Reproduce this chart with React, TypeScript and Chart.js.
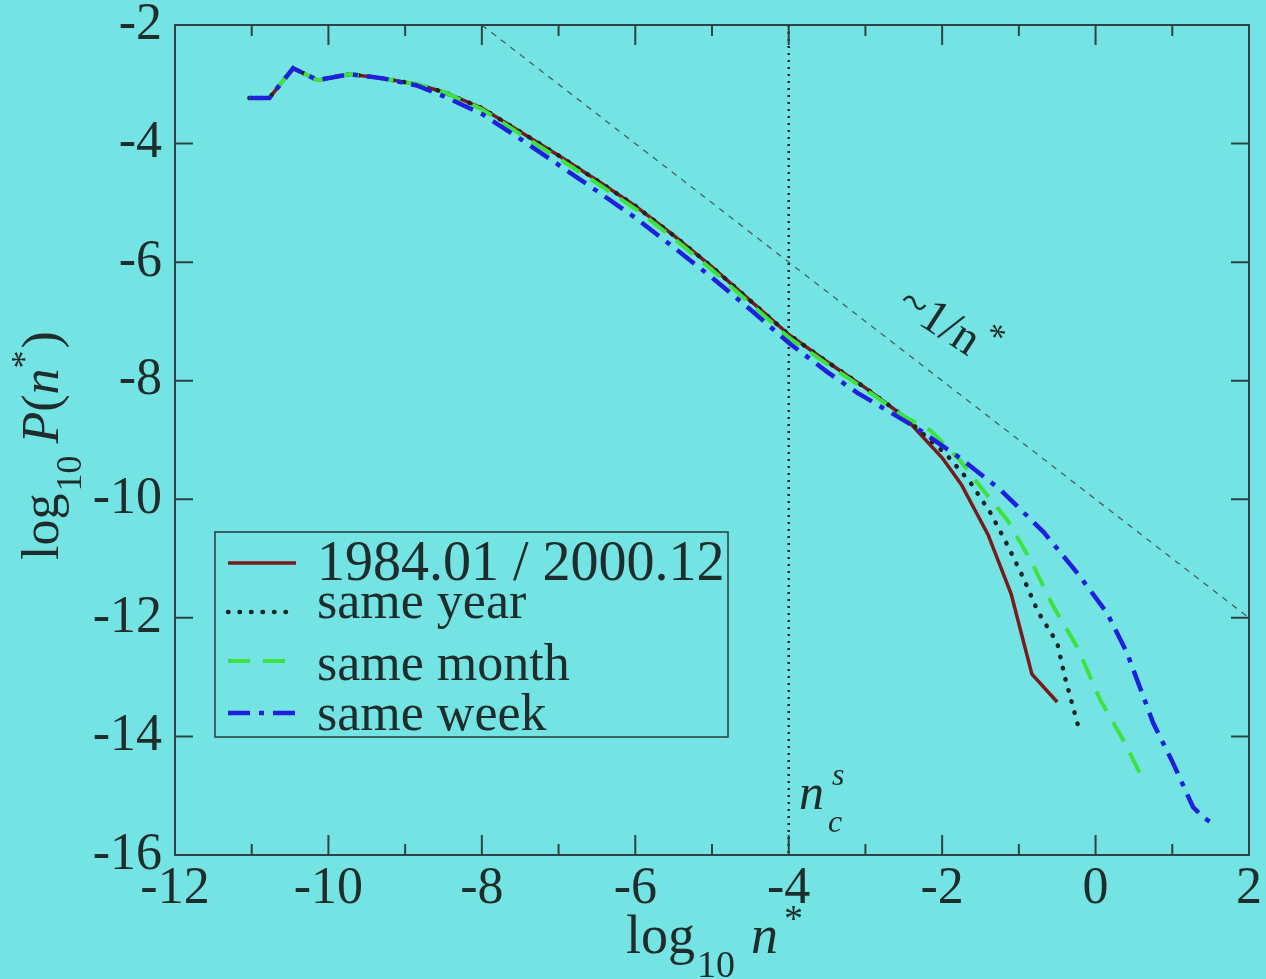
import React, { useEffect, useRef } from "react";
import { Chart, registerables } from "chart.js";

Chart.register(...registerables);

// ---------- data ----------
const xTickValues = [-12, -10, -8, -6, -4, -2, 0, 2];
const yTickValues = [-16, -14, -12, -10, -8, -6, -4, -2];

const seriesLabels = ["1984.01 / 2000.12", "same year", "same month", "same week"];

const fullX = [-11.03, -10.77, -10.46, -10.14, -9.72, -9.29, -8.85, -8.5, -8.0, -7.5, -7.0, -6.5, -6.0, -5.5, -5.0, -4.5, -4.0, -3.5, -3.0, -2.5, -2.0, -1.75, -1.4, -1.1, -0.83, -0.5];
const fullY = [-3.23, -3.23, -2.73, -2.93, -2.83, -2.9, -3.0, -3.13, -3.4, -3.8, -4.2, -4.62, -5.05, -5.55, -6.08, -6.65, -7.22, -7.68, -8.12, -8.6, -9.3, -9.75, -10.6, -11.6, -12.95, -13.42];

const yearX = [-11.03, -10.77, -10.46, -10.14, -9.72, -9.29, -8.85, -8.5, -8.0, -7.5, -7.0, -6.5, -6.0, -5.5, -5.0, -4.5, -4.0, -3.5, -3.0, -2.5, -2.2, -1.94, -1.63, -1.37, -1.15, -0.94, -0.75, -0.5, -0.4, -0.2];
const yearY = [-3.23, -3.23, -2.73, -2.93, -2.83, -2.9, -3.0, -3.13, -3.4, -3.8, -4.2, -4.62, -5.05, -5.55, -6.08, -6.65, -7.22, -7.68, -8.12, -8.6, -8.95, -9.25, -9.72, -10.23, -10.77, -11.33, -11.9, -12.42, -13.0, -13.95];

const monthX = [-11.03, -10.77, -10.46, -10.14, -9.72, -9.29, -8.85, -8.5, -8.0, -7.5, -7.0, -6.5, -6.0, -5.5, -5.0, -4.5, -4.0, -3.5, -3.0, -2.5, -2.16, -1.77, -1.47, -1.15, -0.85, -0.55, -0.24, 0.06, 0.36, 0.62];
const monthY = [-3.23, -3.23, -2.73, -2.93, -2.83, -2.9, -3.0, -3.13, -3.42, -3.84, -4.25, -4.67, -5.1, -5.6, -6.13, -6.7, -7.27, -7.72, -8.15, -8.6, -8.83, -9.34, -9.84, -10.35, -11.02, -11.81, -12.49, -13.38, -14.06, -14.73];

const weekX = [-11.03, -10.77, -10.46, -10.14, -9.72, -9.29, -8.85, -8.5, -8.0, -7.5, -7.0, -6.5, -6.0, -5.5, -5.0, -4.5, -4.0, -3.5, -3.11, -2.33, -1.77, -1.24, -0.68, -0.24, 0.15, 0.41, 0.58, 0.75, 1.01, 1.27, 1.4, 1.58];
const weekY = [-3.23, -3.23, -2.73, -2.93, -2.83, -2.9, -3.02, -3.2, -3.5, -3.92, -4.36, -4.8, -5.25, -5.75, -6.26, -6.8, -7.36, -7.85, -8.2, -8.8, -9.3, -9.84, -10.55, -11.24, -11.92, -12.59, -13.18, -13.77, -14.45, -15.19, -15.36, -15.52];

// reference guides
const slopeLineX = [-8, 2];
const slopeLineY = [-2, -12];
const crossoverX = [-4, -4];
const crossoverY = [-2, -16];

// ---------- styles ----------
const BG = "#74e3e3";
const INK = "#1f2c2c";
const AXIS = "#2e4444";
const SERIF = "'Liberation Serif', 'DejaVu Serif', serif";

const pts = (xs: number[], ys: number[]) => xs.map((x, i) => ({ x, y: ys[i] }));

function runText(ctx: CanvasRenderingContext2D, parts: { t: string; size: number; italic?: boolean; dy?: number; dx?: number }[], x: number, y: number) {
  let cx = x;
  for (const p of parts) {
    ctx.font = `${p.italic ? "italic " : ""}${p.size}px ${SERIF}`;
    cx += p.dx || 0;
    ctx.fillText(p.t, cx, y + (p.dy || 0));
    cx += ctx.measureText(p.t).width;
  }
}

const decoPlugin = {
  id: "deco",
  afterDraw(chart: any) {
    const { ctx, chartArea: a, scales } = chart;
    const xs = scales.x;
    const ys = scales.y;
    ctx.save();

    // frame
    ctx.strokeStyle = AXIS;
    ctx.lineWidth = 2;
    ctx.setLineDash([]);
    ctx.strokeRect(a.left, a.top, a.right - a.left, a.bottom - a.top);

    // inward ticks
    ctx.beginPath();
    for (let v = Math.ceil(xs.min); v <= xs.max; v++) {
      const px = xs.getPixelForValue(v);
      const len = Math.abs(v % 2) === 0 ? 20 : 11;
      ctx.moveTo(px, a.bottom);
      ctx.lineTo(px, a.bottom - len);
      ctx.moveTo(px, a.top);
      ctx.lineTo(px, a.top + len);
    }
    for (const t of ys.ticks) {
      const py = ys.getPixelForValue(t.value);
      ctx.moveTo(a.left, py);
      ctx.lineTo(a.left + 18, py);
      ctx.moveTo(a.right, py);
      ctx.lineTo(a.right - 18, py);
    }
    ctx.stroke();

    ctx.fillStyle = INK;
    ctx.textBaseline = "alphabetic";
    ctx.textAlign = "left";

    // x title
    runText(ctx, [
      { t: "log", size: 54 },
      { t: "10", size: 38, dy: 24, dx: 2 },
      { t: "n", size: 54, italic: true, dx: 16 },
      { t: "*", size: 38, dy: -22, dx: 6 },
    ], 626, 953);

    // y title (rotated)
    ctx.save();
    ctx.translate(58, 560);
    ctx.rotate(-Math.PI / 2);
    runText(ctx, [
      { t: "log", size: 52 },
      { t: "10", size: 36, dy: 23, dx: 2 },
      { t: "P", size: 52, italic: true, dx: 12 },
      { t: "(", size: 52 },
      { t: "n", size: 52, italic: true },
      { t: "*", size: 36, dy: -22 },
      { t: ")", size: 52, dx: 2 },
    ], 0, 0);
    ctx.restore();

    // ~1/n* annotation
    ctx.save();
    ctx.translate(895, 309);
    ctx.rotate((33 * Math.PI) / 180);
    runText(ctx, [
      { t: "~1/n", size: 48 },
      { t: "*", size: 36, dy: -20, dx: 2 },
    ], 0, 0);
    ctx.restore();

    // n_c^s annotation
    runText(ctx, [{ t: "n", size: 50, italic: true }], 799, 809);
    runText(ctx, [{ t: "s", size: 32, italic: true }], 832, 785);
    runText(ctx, [{ t: "c", size: 32, italic: true }], 828, 832);

    // legend
    const lx0 = 215, ly0 = 532, lx1 = 728, ly1 = 737;
    ctx.strokeStyle = "#2a3a3a";
    ctx.lineWidth = 1.5;
    ctx.strokeRect(lx0, ly0, lx1 - lx0, ly1 - ly0);
    const sampleY = [563, 612, 661, 713];
    const textY = [580, 618, 680, 730];
    const textSize = [56, 52, 52, 52];
    const ds = chart.data.datasets;
    for (let i = 0; i < 4; i++) {
      const d = ds.find((q: any) => q.label === seriesLabels[i]);
      ctx.save();
      ctx.strokeStyle = d.borderColor;
      ctx.lineWidth = d.borderWidth;
      ctx.lineCap = d.borderCapStyle || "butt";
      ctx.setLineDash(d.borderDash || []);
      ctx.beginPath();
      ctx.moveTo(228, sampleY[i]);
      ctx.lineTo(296, sampleY[i]);
      ctx.stroke();
      ctx.restore();
      ctx.fillStyle = INK;
      ctx.font = `${textSize[i]}px ${SERIF}`;
      ctx.fillText(seriesLabels[i], 317, textY[i]);
    }

    ctx.restore();
  },
};

export default function App() {
  const ref = useRef<HTMLCanvasElement | null>(null);

  useEffect(() => {
    document.body.style.margin = "0";
    document.body.style.background = BG;
    const canvas = ref.current!;
    const chart = new Chart(canvas, {
      type: "scatter",
      data: {
        datasets: [
          {
            label: seriesLabels[3],
            data: pts(weekX, weekY),
            showLine: true,
            borderColor: "#2020dc",
            borderWidth: 4.5,
            borderDash: [22, 9, 5, 9],
            pointRadius: 0,
            order: 0,
          },
          {
            label: seriesLabels[2],
            data: pts(monthX, monthY),
            showLine: true,
            borderColor: "#3ee23e",
            borderWidth: 4,
            borderDash: [22, 13],
            pointRadius: 0,
            order: 1,
          },
          {
            label: seriesLabels[1],
            data: pts(yearX, yearY),
            showLine: true,
            borderColor: "#1c2424",
            borderWidth: 4.5,
            borderDash: [0.5, 11],
            borderCapStyle: "round",
            pointRadius: 0,
            order: 2,
          },
          {
            label: seriesLabels[0],
            data: pts(fullX, fullY),
            showLine: true,
            borderColor: "#7a1b1b",
            borderWidth: 3.5,
            pointRadius: 0,
            order: 3,
          },
          {
            label: "slope",
            data: pts(slopeLineX, slopeLineY),
            showLine: true,
            borderColor: "#4a5e5e",
            borderWidth: 1.3,
            borderDash: [6, 6],
            pointRadius: 0,
            order: 4,
          },
          {
            label: "crossover",
            data: pts(crossoverX, crossoverY),
            showLine: true,
            borderColor: "#1c2424",
            borderWidth: 2.5,
            borderDash: [2, 5],
            pointRadius: 0,
            order: 5,
          },
        ],
      },
      options: {
        animation: false,
        responsive: false,
        devicePixelRatio: 1,
        layout: { padding: { top: 25, right: 17, left: 0, bottom: 0 } },
        plugins: { legend: { display: false }, tooltip: { enabled: false } },
        scales: {
          x: {
            type: "linear",
            min: -12,
            max: 2,
            afterBuildTicks: (s: any) => {
              s.ticks = xTickValues.map((v) => ({ value: v }));
            },
            afterFit: (s: any) => {
              s.height = 124;
              s.paddingLeft = 0;
              s.paddingRight = 0;
              s.paddingTop = 0;
              s.paddingBottom = 0;
            },
            grid: { display: false, drawTicks: false },
            border: { display: false },
            ticks: {
              font: { family: SERIF, size: 52, lineHeight: 1 },
              color: INK,
              padding: 8,
              maxRotation: 0,
              autoSkip: false,
            },
          },
          y: {
            type: "linear",
            min: -16,
            max: -2,
            afterBuildTicks: (s: any) => {
              s.ticks = yTickValues.map((v) => ({ value: v }));
            },
            afterFit: (s: any) => {
              s.width = 175;
              s.paddingLeft = 0;
              s.paddingRight = 0;
              s.paddingTop = 0;
              s.paddingBottom = 0;
            },
            grid: { display: false, drawTicks: false },
            border: { display: false },
            ticks: {
              font: { family: SERIF, size: 52, lineHeight: 1 },
              color: INK,
              padding: 13,
              autoSkip: false,
            },
          },
        },
      },
      plugins: [decoPlugin],
    } as any);
    return () => chart.destroy();
  }, []);

  return (
    <div style={{ position: "fixed", left: 0, top: 0, width: 1266, height: 979, background: BG }}>
      <canvas ref={ref} width={1266} height={979} style={{ display: "block", width: 1266, height: 979 }} />
    </div>
  );
}
